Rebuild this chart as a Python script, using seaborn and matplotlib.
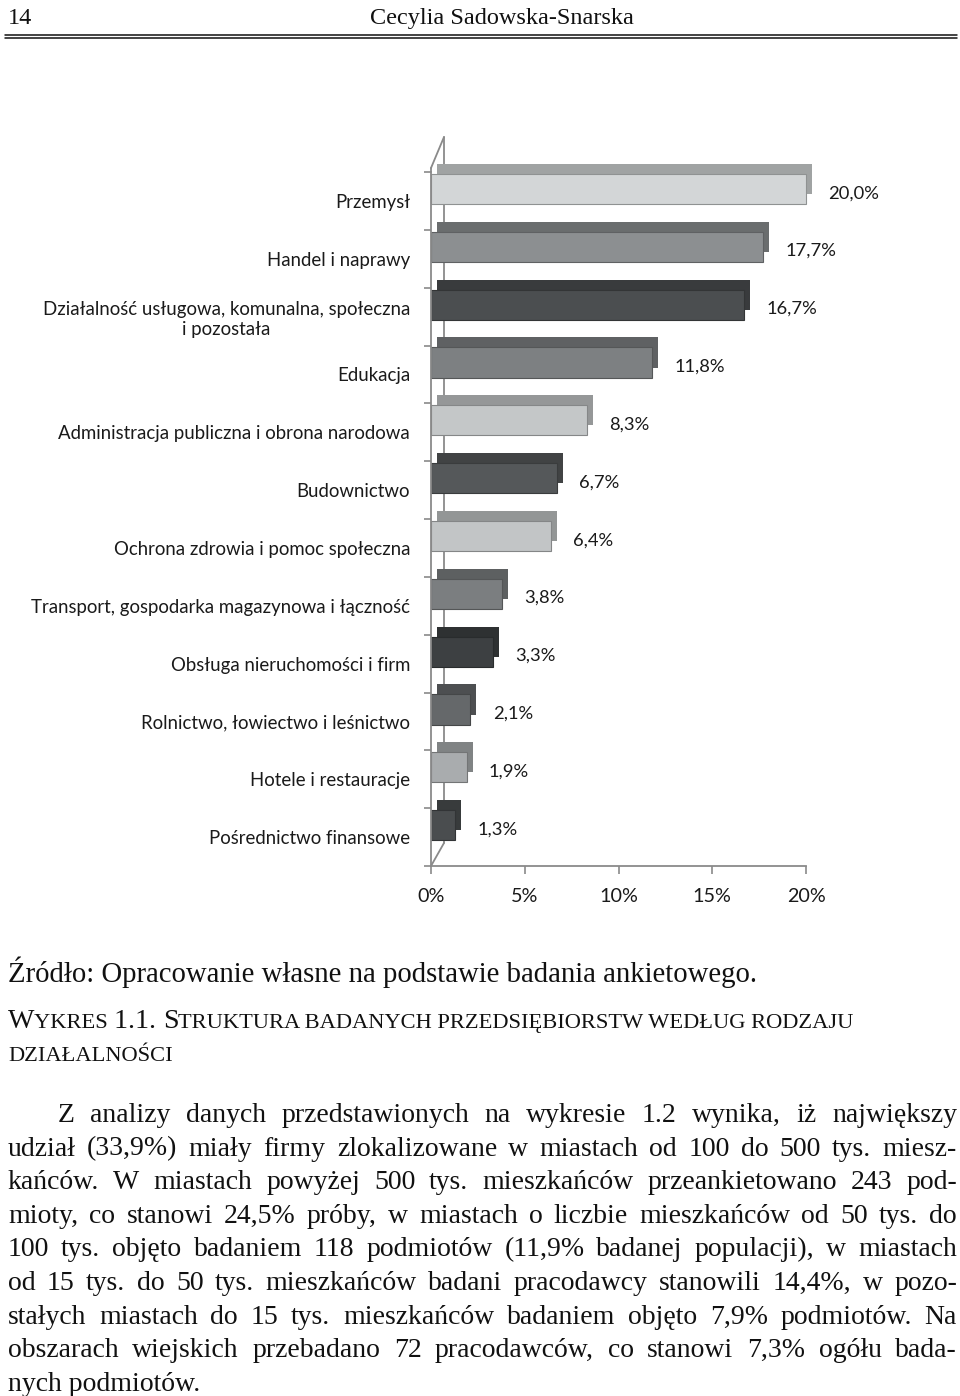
import numpy as np
import pandas as pd
import matplotlib
matplotlib.use("Agg")
import matplotlib.pyplot as plt
import matplotlib.patheffects as pe
from matplotlib.lines import Line2D
import matplotlib.colors as mcolors
import seaborn as sns

# ---------------- data ----------------
categories = [
    "Przemysł",
    "Handel i naprawy",
    "Działalność usługowa, komunalna, społeczna\ni pozostała",
    "Edukacja",
    "Administracja publiczna i obrona narodowa",
    "Budownictwo",
    "Ochrona zdrowia i pomoc społeczna",
    "Transport, gospodarka magazynowa i łączność",
    "Obsługa nieruchomości i firm",
    "Rolnictwo, łowiectwo i leśnictwo",
    "Hotele i restauracje",
    "Pośrednictwo finansowe",
]
shares = [20.0, 17.7, 16.7, 11.8, 8.3, 6.7, 6.4, 3.8, 3.3, 2.1, 1.9, 1.3]
bar_colors = ["#d3d6d7", "#8c8f91", "#4b4e50", "#7d8082", "#c4c7c8", "#55585a",
              "#c2c5c6", "#7b7e80", "#3d4042", "#65686a", "#a9acae", "#4a4d4f"]
x_ticks = [0, 5, 10, 15, 20]
x_tick_labels = ["0%", "5%", "10%", "15%", "20%"]

header_page = "14"
header_author = "Cecylia Sadowska-Snarska"
source_text = "Źródło: Opracowanie własne na podstawie badania ankietowego."
caption_runs_1 = [("W", "L"), ("YKRES ", "S"), ("1.1. ", "L"), ("S", "L"),
                  ("TRUKTURA BADANYCH PRZEDSIĘBIORSTW WEDŁUG RODZAJU", "S")]
caption_runs_2 = [("DZIAŁALNOŚCI", "S")]
body_lines = [
    "Z analizy danych przedstawionych na wykresie 1.2 wynika, iż największy",
    "udział (33,9%) miały firmy zlokalizowane w miastach od 100 do 500 tys. miesz-",
    "kańców. W miastach powyżej 500 tys. mieszkańców przeankietowano 243 pod-",
    "mioty, co stanowi 24,5% próby, w miastach o liczbie mieszkańców od 50 tys. do",
    "100 tys. objęto badaniem 118 podmiotów (11,9% badanej populacji), w miastach",
    "od 15 tys. do 50 tys. mieszkańców badani pracodawcy stanowili 14,4%, w pozo-",
    "stałych miastach do 15 tys. mieszkańców badaniem objęto 7,9% podmiotów. Na",
    "obszarach wiejskich przebadano 72 pracodawców, co stanowi 7,3% ogółu bada-",
    "nych podmiotów.",
]

# ---------------- figure ----------------
sns.set_theme(style="white")
plt.rcParams["font.family"] = ["Lato", "DejaVu Sans"]

W, H = 960, 1396
fig = plt.figure(figsize=(W / 100, H / 100), dpi=100)
fig.patch.set_facecolor("white")

def fx(x):
    return x / W

def fy(y):
    return 1 - y / H

ax_left, ax_right, ax_top, ax_bot = 431, 806, 172, 866
ax = fig.add_axes([fx(ax_left), fy(ax_bot), (ax_right - ax_left) / W, (ax_bot - ax_top) / H])
ax.set_facecolor("none")

df = pd.DataFrame({"kat": categories, "udzial": shares})
sns.barplot(data=df, x="udzial", y="kat", hue="kat", palette=bar_colors, legend=False,
            orient="h", width=0.52, saturation=1, ax=ax)

def darker(c, f=0.75):
    r, g, b = mcolors.to_rgb(c)
    return (r * f, g * f, b * f)

for p, c in zip(ax.patches, bar_colors):
    d = darker(c, 0.76)
    p.set_edgecolor(darker(c, 0.68))
    p.set_linewidth(0.8)
    p.set_clip_on(False)
    p.set_path_effects([pe.SimplePatchShadow(offset=(4.3, 7.2), shadow_rgbFace=d, alpha=1),
                        pe.Normal()])

row_px = (ax_bot - ax_top) / len(categories)
top_off = (189 - ax_top) / row_px
ax.set_ylim(len(categories) - top_off, -top_off)
ax.set_xlim(0, 20)

lab_off = (201 - 189) / row_px
ax.set_yticks(np.arange(len(categories)) + lab_off, labels=categories)
ax.set_yticks(np.arange(len(categories) + 1) - top_off, minor=True)
for lbl in ax.get_yticklabels():
    lbl.set_multialignment("center")
ax.set_xticks(x_ticks, labels=x_tick_labels)
ax.set_xlabel("")
ax.set_ylabel("")

axis_gray = "#8a8a8a"
ax.tick_params(axis="y", which="major", length=0, pad=15, labelsize=13.4, labelcolor="#1a1a1a")
ax.tick_params(axis="y", which="minor", length=5, width=1.2, color=axis_gray, left=True)
ax.tick_params(axis="x", which="major", length=6, width=1.2, color=axis_gray, bottom=True,
               pad=9.5, labelsize=14.2, labelcolor="#1a1a1a")
for s in ["top", "right"]:
    ax.spines[s].set_visible(False)
for s in ["left", "bottom"]:
    ax.spines[s].set_color(axis_gray)
    ax.spines[s].set_linewidth(1.3)

for i, v in enumerate(shares):
    ax.annotate(f"{v:.1f}".replace(".", ",") + "%", xy=(v, i), xytext=(16, -3),
                textcoords="offset points", ha="left", va="center", fontsize=13.2,
                color="#1a1a1a", annotation_clip=False)

# 3D wall edges (decoration)
for (x0, y0), (x1, y1) in [((444, 137), (444, 843)), ((431, 168), (444, 137)),
                           ((431, 866), (444, 843)), ((431, 168), (431, 172))]:
    fig.add_artist(Line2D([fx(x0), fx(x1)], [fy(y0), fy(y1)], transform=fig.transFigure,
                          color=axis_gray, lw=1.3, zorder=-1))

# ---------------- page text ----------------
serif = ["Liberation Serif", "DejaVu Serif"]
renderer = fig.canvas.get_renderer()

def measure(s, size):
    t = fig.text(0, 0, s, fontsize=size, family=serif)
    w = t.get_window_extent(renderer).width
    t.remove()
    return w

def put(x, y, s, size, ha="left"):
    fig.text(fx(x), fy(y), s, fontsize=size, family=serif, ha=ha, va="baseline", color="#111111")

# header
put(8, 24, header_page, 17.5)
put(502, 24, header_author, 17.5, ha="center")
for yy in (34.5, 37.5):
    fig.add_artist(Line2D([fx(5), fx(957)], [fy(yy), fy(yy)], transform=fig.transFigure,
                          color="#111111", lw=1.1))

# body: fit size, justify
left, right, indent = 8, 957, 50
base = 20.0
ratios = []
for k, line in enumerate(body_lines[:-1]):
    avail = right - (left + indent if k == 0 else left)
    ratios.append(avail / measure(line, base))
size = base * min(1.0, min(ratios) * 0.995)

baseline0, lead = 1122, 33.6
for k, line in enumerate(body_lines):
    y = baseline0 + k * lead
    x0 = left + indent if k == 0 else left
    words = line.split(" ")
    if k == len(body_lines) - 1:
        put(x0, y, line, size)
        continue
    widths = [measure(w, size) for w in words]
    gap = (right - x0 - sum(widths)) / (len(words) - 1)
    x = x0
    for w, wd in zip(words, widths):
        put(x, y, w, size)
        x += wd + gap

# source line, sized to its width on the page
src_size = size * (757 - 8) / measure(source_text, size)
put(8, 982, source_text, src_size)

def runs_width(runs, sz):
    return sum(measure(s.replace(" ", "\u00a0"), sz if k == "L" else sz * 0.8) for s, k in runs)

cap_size = size * (858 - 8) / runs_width(caption_runs_1, size)

def put_runs(runs, y, sz, x=8):
    for s, kind in runs:
        z = sz if kind == "L" else sz * 0.8
        put(x, y, s, z)
        x += measure(s.replace(" ", "\u00a0"), z)

put_runs(caption_runs_1, 1028, cap_size)
put_runs(caption_runs_2, 1061, cap_size)

fig.savefig("out.png", dpi=100, facecolor="white")
